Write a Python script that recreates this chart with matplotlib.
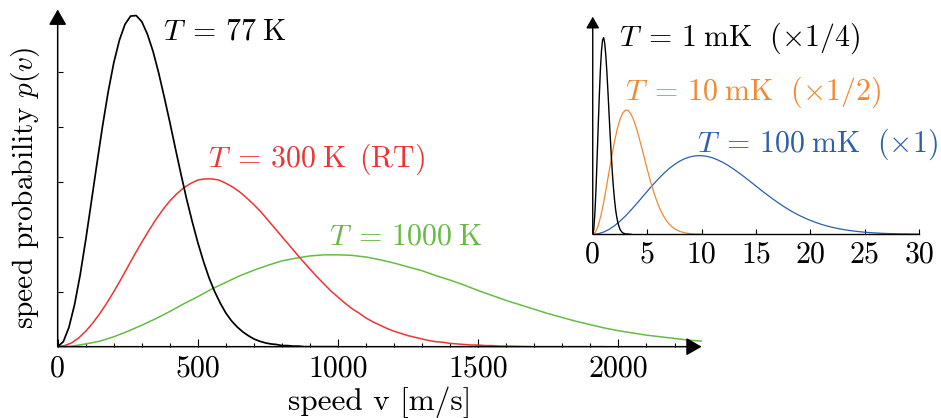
import matplotlib
matplotlib.use("Agg")
import matplotlib.pyplot as plt

plt.rcParams['font.family'] = 'cmr10'
plt.rcParams['mathtext.fontset'] = 'cm'
plt.rcParams['axes.formatter.use_mathtext'] = True

# speed distributions p(v), main panel, speed in m/s
v_77 = list(range(0, 1001, 20))
p_77 = [0.0, 0.09, 0.35, 0.76, 1.3, 1.94, 2.63, 3.33, 4.01, 4.63, 5.16, 5.57, 5.86, 6.01, 6.02,
        5.91, 5.68, 5.37, 4.98, 4.54, 4.08, 3.6, 3.13, 2.68, 2.27, 1.89, 1.55, 1.25, 1.0, 0.79,
        0.61, 0.47, 0.36, 0.27, 0.2, 0.14, 0.1, 0.07, 0.05, 0.04, 0.02, 0.02, 0.01, 0.01, 0.0,
        0.0, 0.0, 0.0, 0.0, 0.0, 0.0]

v_300 = list(range(0, 1601, 25)) + [1700, 1800, 1950]
p_300 = [0.0, 0.02, 0.07, 0.16, 0.28, 0.43, 0.6, 0.79, 1.0, 1.22, 1.45, 1.68, 1.9, 2.11, 2.31,
         2.49, 2.65, 2.78, 2.89, 2.97, 3.03, 3.05, 3.05, 3.03, 2.97, 2.9, 2.81, 2.7, 2.58,
         2.45, 2.3, 2.15, 2.0, 1.85, 1.7, 1.55, 1.41, 1.27, 1.14, 1.01, 0.9, 0.79, 0.69, 0.61,
         0.52, 0.45, 0.39, 0.33, 0.28, 0.24, 0.2, 0.17, 0.14, 0.11, 0.09, 0.08, 0.06, 0.05,
         0.04, 0.03, 0.03, 0.02, 0.02, 0.01, 0.01, 0.0, 0.0, 0.0]

v_1000 = list(range(0, 2301, 50))
p_1000 = [0, 0.01, 0.05, 0.10, 0.18, 0.28, 0.39, 0.51, 0.64, 0.78, 0.91, 1.05, 1.17, 1.29,
          1.39, 1.48, 1.56, 1.61, 1.65, 1.67, 1.67, 1.66, 1.63, 1.58, 1.52, 1.45, 1.38, 1.29,
          1.21, 1.12, 1.02, 0.93, 0.84, 0.76, 0.68, 0.60, 0.53, 0.46, 0.40, 0.34, 0.29, 0.25,
          0.21, 0.18, 0.15, 0.12, 0.10]

x_major = [0, 500, 1000, 1500, 2000]
x_major_labels = ['0', '500', '1000', '1500', '2000']
x_minor = [100, 200, 300, 400, 600, 700, 800, 900, 1100, 1200, 1300, 1400,
           1600, 1700, 1800, 1900, 2100, 2200]
y_ticks = [1, 2, 3, 4, 5]

# inset, millikelvin temperatures (curves rescaled by 1/4, 1/2, 1)
v_1mk = [0, 0.1, 0.2, 0.3, 0.4, 0.5, 0.6, 0.7, 0.8, 0.9, 1.0, 1.1, 1.2, 1.3, 1.4, 1.5,
         1.6, 1.7, 1.8, 1.9, 2.0, 2.1, 2.2, 2.3, 2.4, 2.5, 2.6, 2.7, 2.8, 2.9, 3.0, 3.5]
p_1mk = [0, 0.07, 0.273, 0.58, 0.958, 1.363, 1.75, 2.083, 2.325, 2.465, 2.498, 2.43, 2.275,
         2.058, 1.803, 1.53, 1.26, 1.01, 0.785, 0.595, 0.44, 0.315, 0.223, 0.153, 0.103,
         0.065, 0.043, 0.025, 0.015, 0.01, 0.005, 0]

v_10mk = [i * 0.25 for i in range(41)]
p_10mk = [0.0, 0.028, 0.109, 0.237, 0.403, 0.594, 0.796, 0.996, 1.18, 1.337, 1.459, 1.54,
          1.578, 1.574, 1.531, 1.456, 1.354, 1.233, 1.101, 0.964, 0.829, 0.7, 0.581, 0.474,
          0.38, 0.3, 0.233, 0.178, 0.134, 0.099, 0.072, 0.052, 0.037, 0.026, 0.018, 0.012,
          0.008, 0.005, 0.003, 0.002, 0.001]

v_100mk = [i * 0.5 for i in range(61)]
p_100mk = [0.0, 0.007, 0.028, 0.062, 0.109, 0.166, 0.232, 0.305, 0.383, 0.464, 0.545, 0.625,
           0.7, 0.77, 0.833, 0.886, 0.93, 0.964, 0.986, 0.998, 0.999, 0.99, 0.972, 0.944,
           0.91, 0.869, 0.823, 0.773, 0.721, 0.667, 0.612, 0.557, 0.504, 0.453, 0.404, 0.357,
           0.314, 0.274, 0.238, 0.205, 0.176, 0.15, 0.126, 0.106, 0.089, 0.074, 0.061, 0.05,
           0.041, 0.033, 0.026, 0.021, 0.017, 0.013, 0.01, 0.008, 0.006, 0.005, 0.004, 0.003,
           0.002]

inset_ticks = [0, 5, 10, 15, 20, 25, 30]
inset_tick_labels = ['0', '5', '10', '15', '20', '25', '30']

c_red = '#ee3333'
c_green = '#66bb44'
c_orange = '#f5872e'
c_blue = '#2b5fad'
fs = 21.5

fig = plt.figure(figsize=(9.41, 4.18), dpi=100)

# main panel
ax = fig.add_axes([0.0613, 0.1706, 0.6844, 0.8067])
ax.patch.set_alpha(0)
ax.set_xlim(0, 2297)
ax.set_ylim(0, 6.13)
for s in ax.spines.values():
    s.set_visible(False)

ax.plot(v_1000, p_1000, color=c_green, lw=1.1)
ax.plot(v_300, p_300, color=c_red, lw=1.1)
ax.plot(v_77, p_77, color='k', lw=1.25)

# axes drawn as arrows
arrow = dict(arrowstyle='-|>,head_length=0.35,head_width=0.2', mutation_scale=27,
             lw=1.1, color='k', shrinkA=0, shrinkB=0)
ax.annotate('', xy=(1, 0), xytext=(0, 0), xycoords='axes fraction', arrowprops=arrow)
ax.annotate('', xy=(0, 1), xytext=(0, 0), xycoords='axes fraction', arrowprops=arrow)

ax.xaxis.set_ticks_position('bottom')
ax.yaxis.set_ticks_position('left')
ax.set_xticks(x_major)
ax.set_xticklabels(x_major_labels)
ax.set_xticks(x_minor, minor=True)
ax.set_yticks(y_ticks)
ax.tick_params(axis='x', which='major', direction='in', length=5.8, width=0.8,
               labelsize=fs, pad=6)
ax.tick_params(axis='x', which='minor', direction='in', length=3, width=0.8)
ax.tick_params(axis='y', direction='in', length=3.6, width=0.8, labelleft=False)

ax.set_xlabel('speed v [m/s]', fontsize=22.5, va='top')
ax.xaxis.set_label_coords(0.5, -0.118)
ax.set_ylabel(r'speed probability $p(v)$', fontsize=21.2)
ax.yaxis.set_label_coords(-0.024, 0.47)

ax.text(375, 5.59, r'$T\;=\,77\;\mathrm{K}$', fontsize=fs, color='k', va='baseline')
ax.text(537, 3.27, r'$T\;=\,300\;\mathrm{K}\ \,(\mathrm{RT})$', fontsize=fs, color=c_red,
        va='baseline')
ax.text(969, 1.86, r'$T\;=\,1000\;\mathrm{K}$', fontsize=fs, color=c_green, va='baseline')

# inset
ax2 = fig.add_axes([0.6299, 0.4395, 0.3471, 0.5206])
ax2.patch.set_alpha(0)
ax2.set_xlim(0, 30)
ax2.set_ylim(0, 2.765)
for s in ['top', 'right', 'left']:
    ax2.spines[s].set_visible(False)
ax2.spines['bottom'].set_linewidth(1.0)

ax2.plot(v_100mk, p_100mk, color=c_blue, lw=0.9)
ax2.plot(v_10mk, p_10mk, color=c_orange, lw=0.9)
ax2.plot(v_1mk, p_1mk, color='k', lw=1.0)

arrow2 = dict(arrowstyle='-|>,head_length=0.35,head_width=0.2', mutation_scale=20,
              lw=1.0, color='k', shrinkA=0, shrinkB=0)
ax2.annotate('', xy=(0, 1), xytext=(0, 0), xycoords='axes fraction', arrowprops=arrow2)

ax2.xaxis.set_ticks_position('bottom')
ax2.set_xticks(inset_ticks)
ax2.set_xticklabels(inset_tick_labels)
ax2.set_yticks([])
ax2.tick_params(axis='x', direction='in', length=3.6, width=0.8, labelsize=fs, pad=5)

ax2.text(2.45, 2.39, r'$T\;=\,1\;\mathrm{mK}\ \ (\times 1/4)$', fontsize=fs, color='k',
         va='baseline')
ax2.text(2.97, 1.715, r'$T\;=\,10\;\mathrm{mK}\ \ (\times 1/2)$', fontsize=fs,
         color=c_orange, va='baseline')
ax2.text(9.56, 1.05, r'$T\;=\,100\;\mathrm{mK}\ \ (\times 1)$', fontsize=fs, color=c_blue,
         va='baseline')

fig.savefig('out.png', dpi=100)
